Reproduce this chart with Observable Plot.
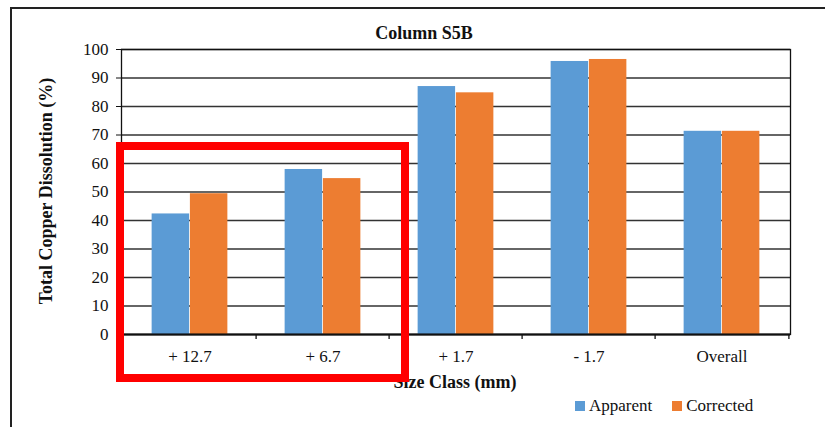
<!DOCTYPE html>
<html><head><meta charset="utf-8">
<script src="https://cdn.jsdelivr.net/npm/d3@7"></script>
<script src="https://cdn.jsdelivr.net/npm/@observablehq/plot@0.6"></script>
<style>
body{margin:0;background:#fff;}
#wrap{position:relative;width:825px;height:427px;overflow:hidden;font-family:"Liberation Serif","Times New Roman",serif;color:#111;background:#fff;}
#wrap svg{position:absolute;left:0;top:0;}
#wrap svg text{font-family:"Liberation Serif","Times New Roman",serif !important;font-size:17px !important;}
.abs{position:absolute;white-space:nowrap;}
#border{left:10px;top:7px;width:840px;height:440px;border-top:2px solid #222;border-left:2px solid #222;}
#title{left:324px;top:24px;width:200px;text-align:center;font-weight:bold;font-size:18px;line-height:18px;}
#xtitle{left:305px;top:373px;width:300px;text-align:center;font-weight:bold;font-size:18px;line-height:18px;}
#ytitle{left:-104px;top:181px;width:300px;height:20px;line-height:20px;text-align:center;font-weight:bold;font-size:18px;transform:rotate(-90deg);}
#legend{left:575px;top:397px;font-size:17px;line-height:17px;display:flex;align-items:center;}
.sw{display:inline-block;width:10px;height:10px;margin-right:4px;}
.item{display:flex;align-items:center;margin-right:20px;}
#redbox{left:116px;top:142px;width:293px;height:240px;box-sizing:border-box;border:8px solid #FF0000;}
</style></head>
<body><div id="wrap">
<div class="abs" id="border"></div>
<div class="abs" id="title">Column S5B</div>
<div class="abs" id="xtitle">Size Class (mm)</div>
<div class="abs" id="ytitle">Total Copper Dissolution (%)</div>
<div class="abs" id="legend"></div>
</div>
<script>
const categories = ["+ 12.7", "+ 6.7", "+ 1.7", "- 1.7", "Overall"];
const apparent = [42.3, 57.9, 87.0, 95.8, 71.3];
const corrected = [49.4, 54.7, 84.8, 96.5, 71.3];
const seriesNames = ["Apparent", "Corrected"];
const seriesColors = ["#5B9BD5", "#ED7D31"];
const yTicks = [0, 10, 20, 30, 40, 50, 60, 70, 80, 90, 100];

const W = 825, H = 427;
const mL = 121, mR = 35, mT = 49, mB = 93;
const bw = (W - mL - mR) / categories.length;
const barW = bw * 0.286;

const rows = categories.flatMap((c, i) => [
  {cat: c, series: seriesNames[0], value: apparent[i]},
  {cat: c, series: seriesNames[1], value: corrected[i]}
]);

const chart = Plot.plot({
  width: W, height: H,
  marginLeft: mL, marginRight: mR, marginTop: mT, marginBottom: mB,
  style: 'font-family: "Liberation Serif","Times New Roman",serif; font-size: 17px; color: #111; background: transparent;',
  x: {domain: categories, padding: 0, tickSize: 0, tickPadding: 15, label: null},
  y: {domain: [0, 100], ticks: yTicks, tickSize: 5, tickPadding: 8, label: null},
  color: {domain: seriesNames, range: seriesColors},
  marks: [
    Plot.gridY(yTicks, {stroke: "#333", strokeOpacity: 1, strokeWidth: 1.3}),
    Plot.barY(rows.filter(d => d.series === seriesNames[0]), {x: "cat", y: "value", fill: "series", insetLeft: bw / 2 - barW, insetRight: bw / 2}),
    Plot.barY(rows.filter(d => d.series === seriesNames[1]), {x: "cat", y: "value", fill: "series", insetLeft: bw / 2, insetRight: bw / 2 - barW}),
    Plot.frame({stroke: "#111", strokeWidth: 1.3}),
    Plot.ruleY([0], {stroke: "#111", strokeWidth: 2}),
    Plot.ruleX(categories.slice(1), {x: d => d, dx: -bw / 2, y1: 0, y2: 0, insetBottom: -5, stroke: "#111", strokeWidth: 1.3}),
    Plot.ruleX(categories.slice(-1), {x: d => d, dx: bw / 2, y1: 0, y2: 0, insetBottom: -5, stroke: "#111", strokeWidth: 1.3})
  ]
});
const wrap = document.getElementById("wrap");
wrap.insertBefore(chart, wrap.firstChild.nextSibling);

const legend = document.getElementById("legend");
seriesNames.forEach((s, i) => {
  const it = document.createElement("span");
  it.className = "item";
  it.innerHTML = `<span class="sw" style="background:${seriesColors[i]}"></span><span>${s}</span>`;
  legend.appendChild(it);
});

const red = document.createElement("div");
red.className = "abs";
red.id = "redbox";
wrap.appendChild(red);
</script>
</body></html>
